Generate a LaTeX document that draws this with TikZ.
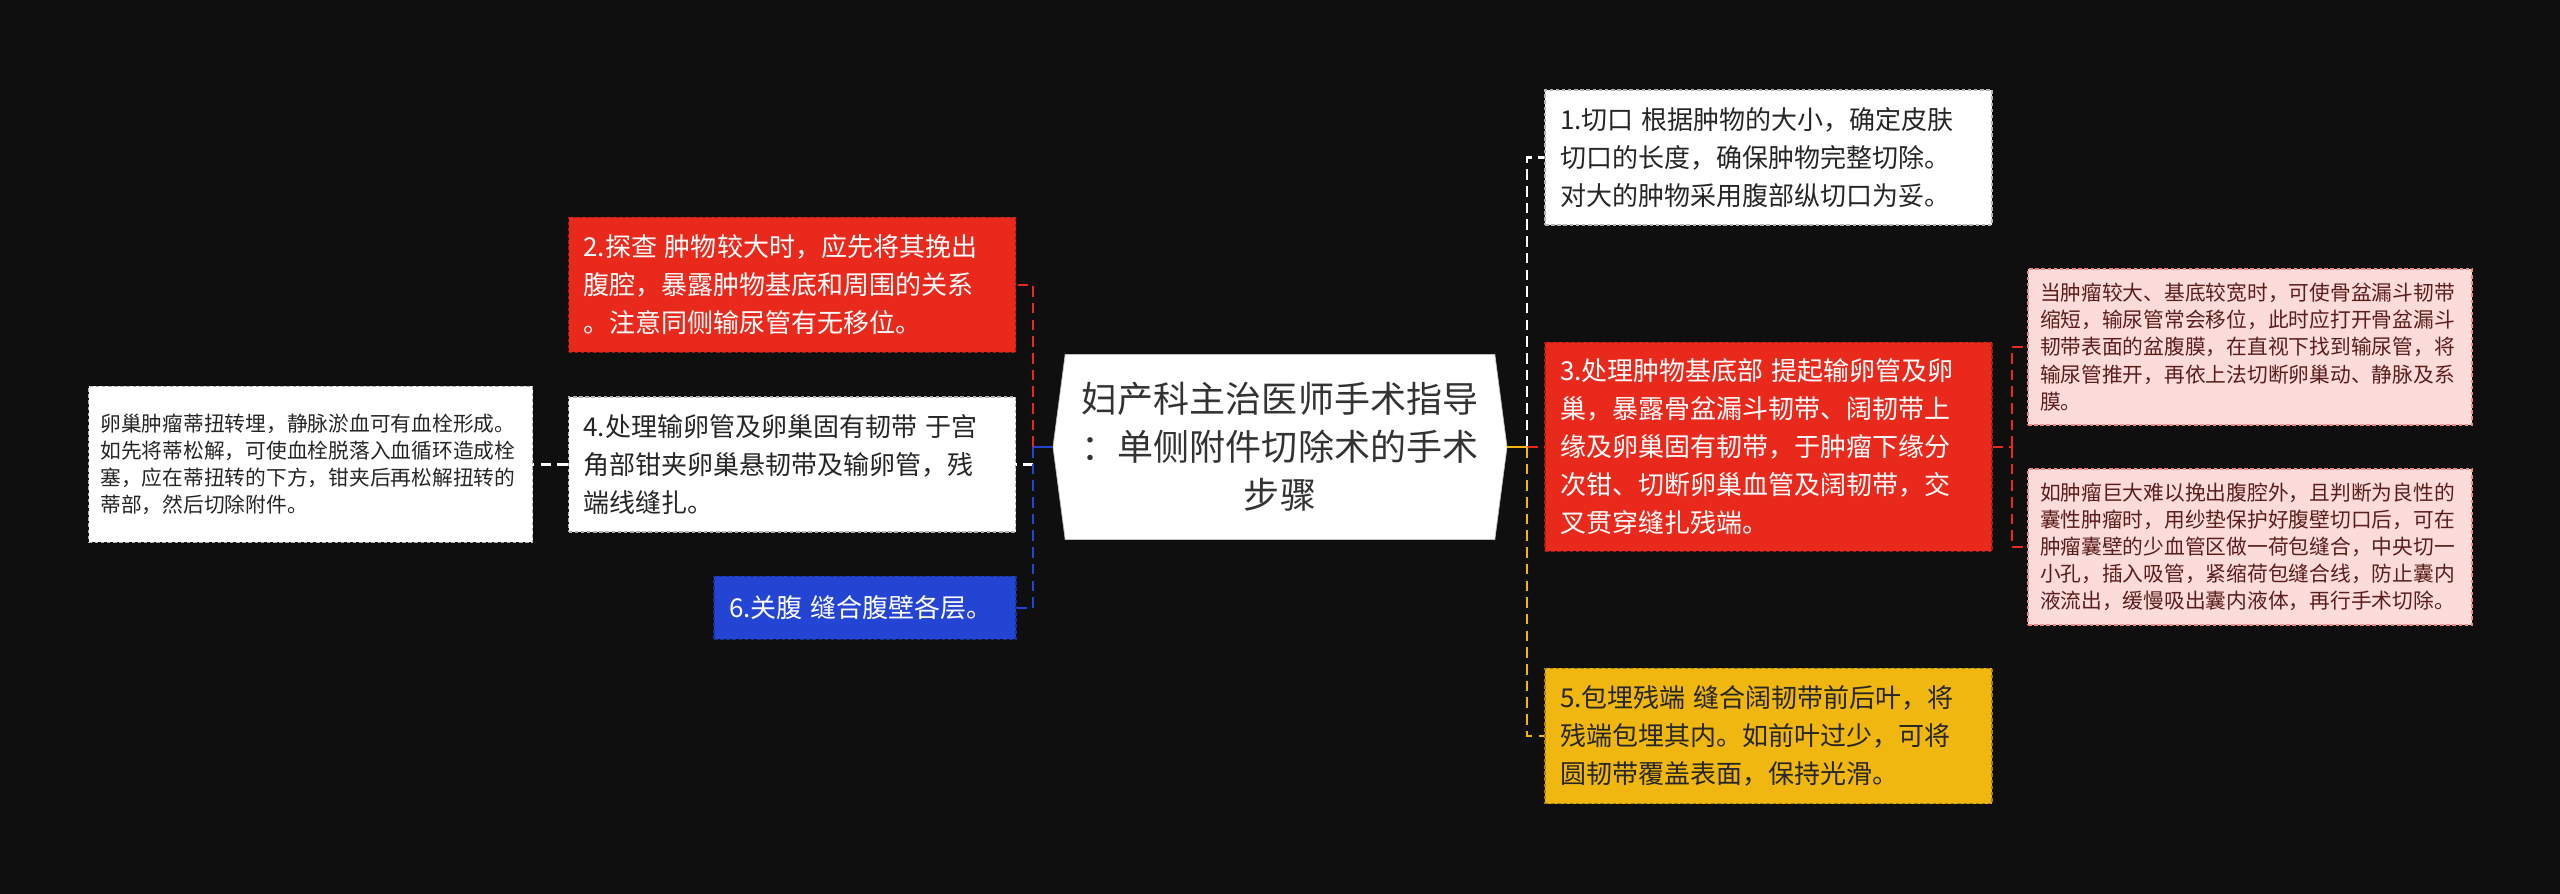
\documentclass[tikz,border=0pt]{standalone}
\usepackage{fontspec}
\setmainfont{Noto Sans CJK SC}
\usetikzlibrary{shapes.symbols}
\definecolor{bg}{HTML}{0F0F0F}
\definecolor{hongse}{HTML}{E8291C}
\definecolor{lanse}{HTML}{2444D4}
\definecolor{huangse}{HTML}{EFB70F}
\definecolor{fense}{HTML}{FCDCDA}
\definecolor{zongse}{HTML}{5B1E1C}
\newcommand{\kong}{\hspace{0.3em}}

\begin{document}
\begin{tikzpicture}[
        box/.style={draw, dash pattern=on 2pt off 1.5pt, line width=0.8pt, align=left, inner xsep=0.3cm, inner ysep=0pt, text width=8.34cm, minimum height=2.7cm, font=\fontsize{14.8}{21.6}\selectfont},
        whitebox/.style={box, fill=white, draw=gray!60, text=black!85},
        redbox/.style={box, fill=hongse, draw=hongse!70!black, text=white},
        note/.style={draw=hongse!55, fill=fense, text=zongse, dash pattern=on 2pt off 1.5pt, line width=0.8pt, align=left, inner xsep=0.24cm, inner ysep=0pt, text width=8.4cm, minimum height=3.12cm, font=\fontsize{11.8}{15.4}\selectfont},
        link/.style={line width=1.6pt, dash pattern=on 6pt off 3.5pt}]

            \fill[bg] (0,0) rectangle (51.2,-17.88);

            \node[signal, signal to=west and east, signal pointer angle=165, fill=white, draw=gray!50, minimum width=9.08cm, minimum height=3.7cm, align=center, text=black!80, font=\fontsize{20.5}{27.3}\selectfont] (0) at(25.6,-8.94) {妇产科主治医师手术指导\\：单侧附件切除术的手术\\步骤};

            \node[whitebox] (1) at(35.37,-3.15) {1.切口\kong 根据肿物的大小，确定皮肤\\切口的长度，确保肿物完整切除。\\对大的肿物采用腹部纵切口为妥。};
            \node[redbox] (2) at(15.84,-5.7) {2.探查\kong 肿物较大时，应先将其挽出\\腹腔，暴露肿物基底和周围的关系\\。注意同侧输尿管有无移位。};
            \node[redbox, minimum height=4.18cm] (3) at(35.37,-8.94) {3.处理肿物基底部\kong 提起输卵管及卵\\巢，暴露骨盆漏斗韧带、阔韧带上\\缘及卵巢固有韧带，于肿瘤下缘分\\次钳、切断卵巢血管及阔韧带，交\\叉贯穿缝扎残端。};
            \node[whitebox] (4) at(15.84,-9.29) {4.处理输卵管及卵巢固有韧带\kong 于宫\\角部钳夹卵巢悬韧带及输卵管，残\\端线缝扎。};
            \node[box, fill=huangse, draw=huangse!70!black, text=black!85] (5) at(35.37,-14.72) {5.包埋残端\kong 缝合阔韧带前后叶，将\\残端包埋其内。如前叶过少，可将\\圆韧带覆盖表面，保持光滑。};
            \node[box, fill=lanse, draw=lanse!70!black, text=white, text width=5.44cm, minimum height=1.26cm] (6) at(17.3,-12.16) {6.关腹\kong 缝合腹壁各层。};

            \node[note, fill=white, draw=gray!60, text=black!85] (7) at(6.21,-9.29) {卵巢肿瘤蒂扭转埋，静脉淤血可有血栓形成。\\如先将蒂松解，可使血栓脱落入血循环造成栓\\塞，应在蒂扭转的下方，钳夹后再松解扭转的\\蒂部，然后切除附件。};
            \node[note] (8) at(45.0,-6.94) {当肿瘤较大、基底较宽时，可使骨盆漏斗韧带\\缩短，输尿管常会移位，此时应打开骨盆漏斗\\韧带表面的盆腹膜，在直视下找到输尿管，将\\输尿管推开，再依上法切断卵巢动、静脉及系\\膜。};
            \node[note] (9) at(45.0,-10.94) {如肿瘤巨大难以挽出腹腔外，且判断为良性的\\囊性肿瘤时，用纱垫保护好腹壁切口后，可在\\肿瘤囊壁的少血管区做一荷包缝合，中央切一\\小孔，插入吸管，紧缩荷包缝合线，防止囊内\\液流出，缓慢吸出囊内液体，再行手术切除。};

            \coordinate (r) at(30.54,-8.94);
            \coordinate (l) at(20.66,-8.94);
            \coordinate (p) at(40.24,-8.94);

            \draw[huangse, line width=1.6pt] (0.east) -- (r);
            \draw[link, white] (r) |- (1.west);
            \draw[link, hongse] (r) -- (3.west);
            \draw[link, huangse] (r) |- (5.west);
            \draw[link, hongse] (3.east) -- (p);
            \draw[link, hongse] (p) |- (8.west);
            \draw[link, hongse] (p) |- (9.west);

            \draw[lanse, line width=1.6pt] (0.west) -- (l);
            \draw[link, hongse] (l) |- (2.east);
            \draw[link, white] (l) |- (4.east);
            \draw[link, lanse] (l) |- (6.east);
            \draw[link, white] (4.west) -- (7.east);

        \end{tikzpicture}
\end{document}
